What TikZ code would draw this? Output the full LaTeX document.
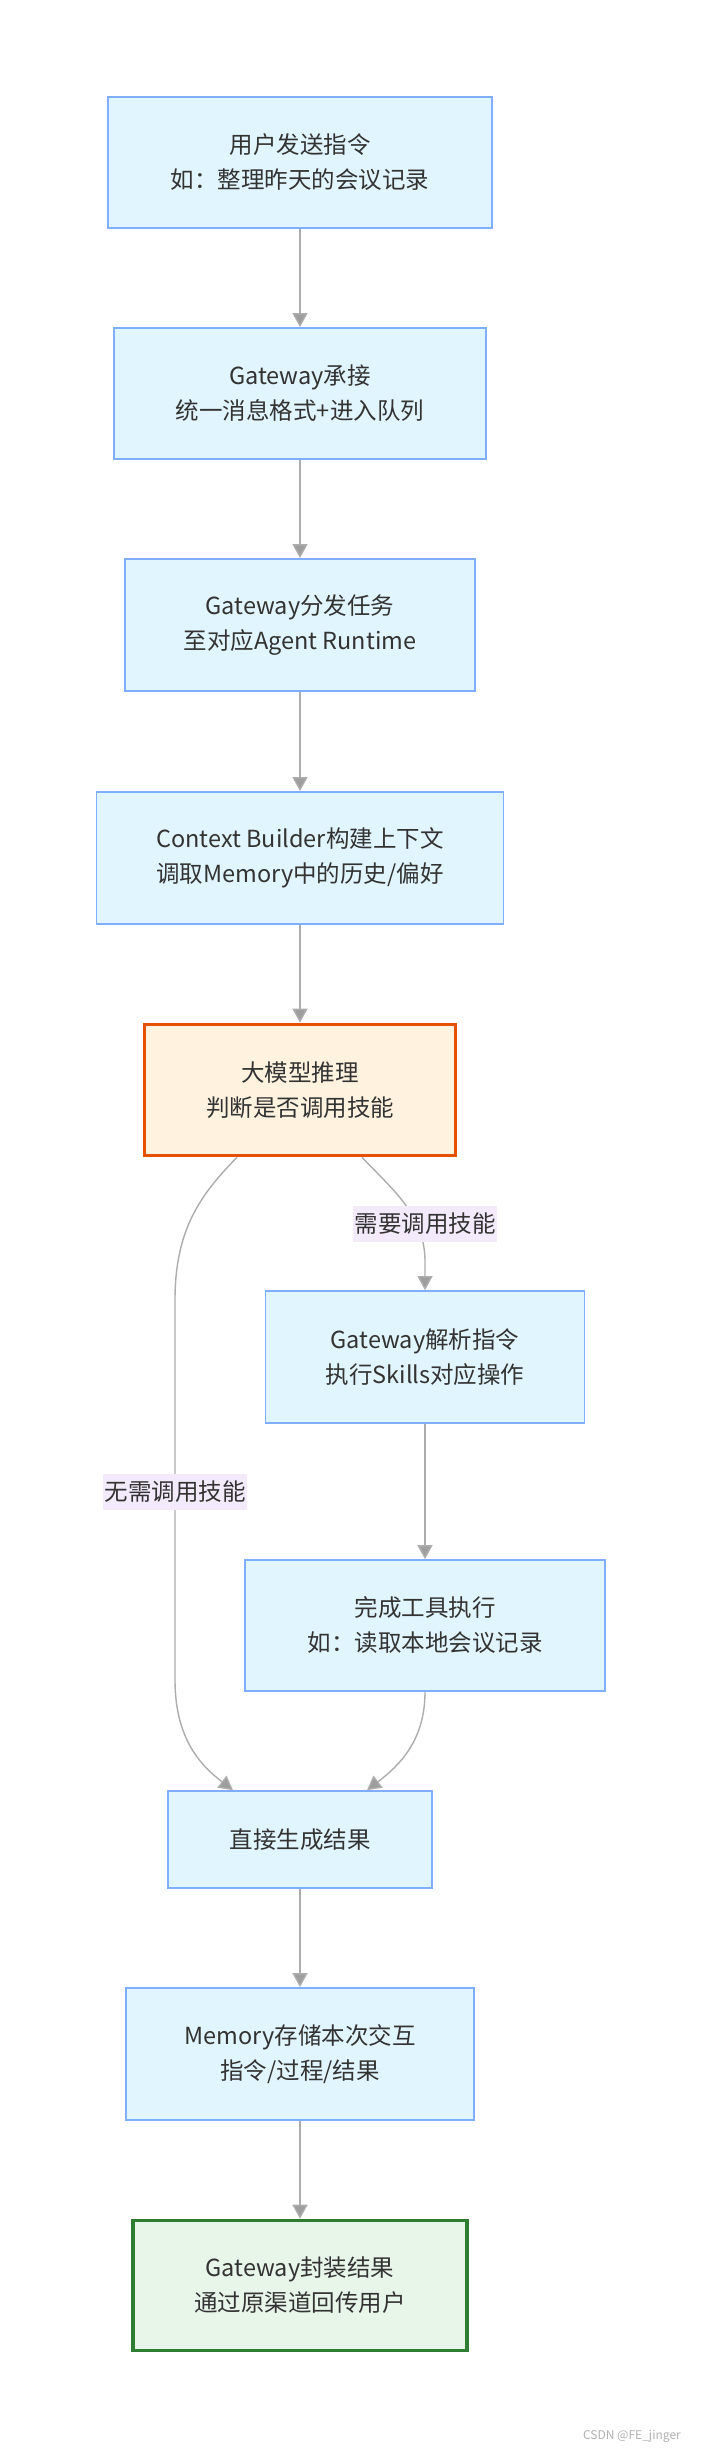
\documentclass[tikz,border=0pt]{standalone}
\usepackage{fontspec}
\setmainfont{Noto Sans CJK SC}
\usetikzlibrary{arrows.meta}
\definecolor{bluefill}{HTML}{E1F5FE}
\definecolor{blueline}{HTML}{7FAEFF}
\definecolor{orfill}{HTML}{FFF3E0}
\definecolor{orline}{HTML}{E65100}
\definecolor{grfill}{HTML}{E8F5E9}
\definecolor{grline}{HTML}{2E7D32}
\definecolor{edgec}{HTML}{ADADAD}
\definecolor{tipc}{HTML}{9E9E9E}
\definecolor{lblfill}{HTML}{F3EAFC}
\definecolor{txt}{HTML}{333333}
\begin{document}
\begin{tikzpicture}[x=1pt,y=-1pt,
  box/.style={draw=blueline, fill=bluefill, line width=1.8pt, align=center, text=txt,
    font=\fontsize{23.5}{35}\selectfont, inner sep=0pt},
  warm/.style={box, draw=orline, fill=orfill, line width=3.6pt},
  done/.style={box, draw=grline, fill=grfill, line width=3.6pt},
  edge/.style={draw=edgec, line width=1.4pt, -{Triangle[width=15pt,length=14pt,fill=tipc]}},
  lbl/.style={fill=lblfill, text=txt, font=\fontsize{23.5}{28}\selectfont, inner sep=0pt, minimum height=36pt},
  wmark/.style={text=gray!60, font=\fontsize{12}{14}\selectfont, inner sep=0pt}]
\path[use as bounding box, fill=white] (0,0) rectangle (701,2448);

\node[box, minimum width=384pt, minimum height=131pt] (n1) at (300,162.5) {用户发送指令\\如：整理昨天的会议记录};
\node[box, minimum width=372pt, minimum height=131pt] (n2) at (300,393.5) {Gateway承接\\统一消息格式+进入队列};
\node[box, minimum width=350pt, minimum height=132pt] (n3) at (300,625) {Gateway分发任务\\至对应Agent Runtime};
\node[box, minimum width=407pt, minimum height=132pt] (n4) at (300,858) {Context Builder构建上下文\\调取Memory中的历史/偏好};
\node[warm, minimum width=311pt, minimum height=131pt] (n5) at (300,1090) {大模型推理\\判断是否调用技能};
\node[box, minimum width=319pt, minimum height=132pt] (n6) at (425,1357) {Gateway解析指令\\执行Skills对应操作};
\node[box, minimum width=360pt, minimum height=131pt] (n7) at (425,1625.5) {完成工具执行\\如：读取本地会议记录};
\node[box, minimum width=264pt, minimum height=97pt] (n8) at (300,1839.5) {直接生成结果};
\node[box, minimum width=348pt, minimum height=132pt] (n9) at (300,2054) {Memory存储本次交互\\指令/过程/结果};
\node[done, minimum width=334pt, minimum height=130pt] (n10) at (300,2285.5) {Gateway封装结果\\通过原渠道回传用户};

\draw[edge] (n1) -- (n2);
\draw[edge] (n2) -- (n3);
\draw[edge] (n3) -- (n4);
\draw[edge] (n4) -- (n5);
\draw[edge] ([xshift=62pt]n5.south) .. controls (395,1192) and (424,1215) .. (425,1260) -- (n6.north);
\draw[edge] ([xshift=-63pt]n5.south) .. controls (200,1195) and (175,1230) .. (175,1300) -- (175,1680) .. controls (175,1738) and (200,1765) .. ([xshift=-67pt]n8.north);
\draw[edge] (n6) -- (n7);
\draw[edge] (n7.south) .. controls (425,1740) and (400,1765) .. ([xshift=67pt]n8.north);
\draw[edge] (n8) -- (n9);
\draw[edge] (n9) -- (n10);

\node[lbl, minimum width=144pt] (l1) at (425,1224) {需要调用技能};
\node[lbl, minimum width=144pt] (l2) at (175,1492) {无需调用技能};

\node[wmark, anchor=east] (wm) at (681,2436) {CSDN @FE\_jinger};
\end{tikzpicture}
\end{document}
